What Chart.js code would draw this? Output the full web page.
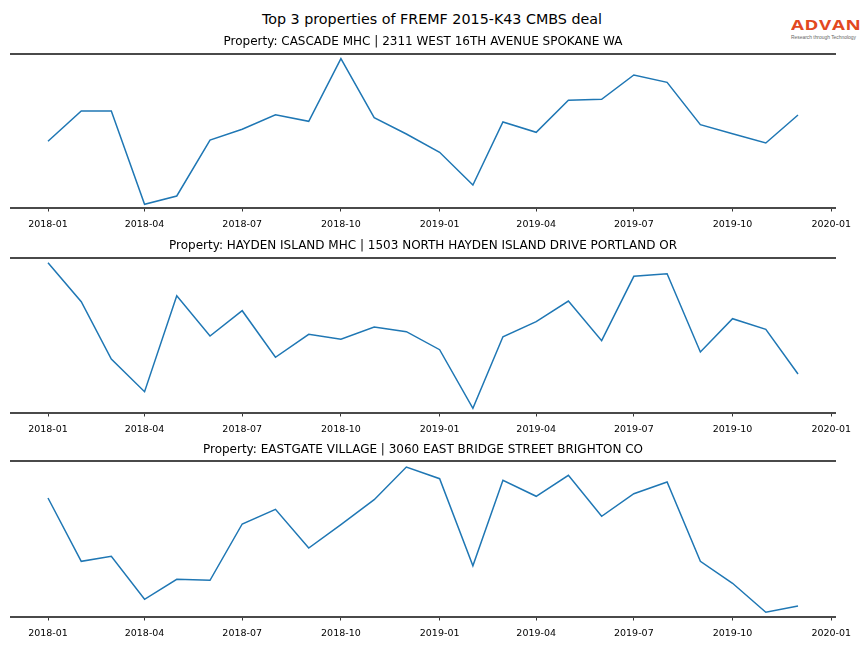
<!DOCTYPE html>
<html>
<head>
<meta charset="utf-8">
<script src="https://cdn.jsdelivr.net/npm/chart.js@4.4.1/dist/chart.umd.min.js"></script>
<style>
  html, body { margin: 0; padding: 0; background: #fff; }
  #wrap { position: relative; width: 864px; height: 648px; overflow: hidden; font-family: "DejaVu Sans", sans-serif; }
  canvas { position: absolute; left: 0; }
  #suptitle { position: absolute; left: 0; width: 864px; top: 10px; text-align: center; font-size: 14.3px; line-height: 18px; color: #000; }
  #logo { position: absolute; left: 791px; top: 16px; width: 72px; }
  #logo .brand { font-family: "Open Sans", "Lato", sans-serif; font-weight: 700; font-size: 15px; line-height: 17px; color: #e2481f; letter-spacing: 0.5px; transform: scaleX(1.25); transform-origin: left center; white-space: nowrap; }
  #logo .tag { font-family: "Liberation Sans", sans-serif; font-size: 4.9px; line-height: 6px; color: #666; white-space: nowrap; margin-top: 2px; }
</style>
</head>
<body>
<div id="wrap">
  <div id="suptitle">Top 3 properties of FREMF 2015-K43 CMBS deal</div>
  <div id="logo"><div class="brand">ADVAN</div><div class="tag">Research through Technology</div></div>
  <canvas id="c1" width="864" height="210"></canvas>
  <canvas id="c2" width="864" height="210"></canvas>
  <canvas id="c3" width="864" height="210"></canvas>
</div>
<script>
// ---- data (arbitrary relative units) ----
const months = ['2018-01','2018-02','2018-03','2018-04','2018-05','2018-06','2018-07','2018-08','2018-09','2018-10','2018-11','2018-12',
                '2019-01','2019-02','2019-03','2019-04','2019-05','2019-06','2019-07','2019-08','2019-09','2019-10','2019-11','2019-12'];
const tickLabels = ['2018-01','2018-04','2018-07','2018-10','2019-01','2019-04','2019-07','2019-10','2020-01'];

const titles = [
  'Property: CASCADE MHC | 2311 WEST 16TH AVENUE SPOKANE WA',
  'Property: HAYDEN ISLAND MHC | 1503 NORTH HAYDEN ISLAND DRIVE PORTLAND OR',
  'Property: EASTGATE VILLAGE | 3060 EAST BRIDGE STREET BRIGHTON CO'
];

const cascade = [66.7, 97.0, 97.0, 3.7, 12.0, 68.0, 78.7, 93.3, 86.7, 149.3, 90.3, 74.0,
                 55.7, 23.0, 86.0, 75.7, 107.7, 108.7, 133.0, 125.7, 83.3, 74.3, 65.0, 93.0];
const hayden  = [150.3, 111.3, 54.0, 21.3, 117.3, 77.0, 102.3, 55.7, 78.7, 73.7, 86.0, 81.3,
                 63.3, 4.7, 76.3, 91.3, 112.0, 72.3, 136.7, 139.3, 61.0, 94.3, 83.7, 39.0];
const eastgate = [119.0, 55.7, 60.7, 17.7, 37.7, 36.7, 93.0, 107.7, 69.0, 92.3, 117.3, 150.0,
                  138.3, 51.3, 136.7, 120.7, 141.7, 100.7, 123.3, 135.0, 55.7, 33.7, 4.7, 11.0];
const seriesList = [cascade, hayden, eastgate];
const yTop = [154, 155, 156];

// ---- layout (panel geometry) ----
const panels = [
  { titleCenter: 42, spineTop: 54, spineBottom: 208 },
  { titleCenter: 246, spineTop: 258, spineBottom: 413 },
  { titleCenter: 450, spineTop: 461, spineBottom: 617 }
];

function dayOf(label) {
  const [y, m] = label.split('-').map(Number);
  return (Date.UTC(y, m - 1, 1) - Date.UTC(2018, 0, 1)) / 86400000;
}
const xs = months.map(dayOf);
const xMinData = Math.min(...xs), xMaxData = Math.max(...xs);
const xMargin = (xMaxData - xMinData) * 0.05;
const tickMap = {};
tickLabels.forEach(l => { tickMap[dayOf(l)] = l; });

const TITLE_FONT = 12;
const TICK_FONT = 9.5;
const TICK_LEN = 3.5;
const TICK_PAD = 7.5;
const AXIS_H = 26;

panels.forEach((p, i) => {
  const cv = document.getElementById('c' + (i + 1));
  const tLine = TITLE_FONT * 1.2;
  const top = Math.floor(p.titleCenter - tLine / 2 - 2);
  const titlePadTop = p.titleCenter - tLine / 2 - top;
  const titlePadBottom = p.spineTop - p.titleCenter - tLine / 2;
  const H = Math.ceil(p.spineBottom - top + AXIS_H);
  cv.style.top = top + 'px';
  cv.height = H;
  cv.style.height = H + 'px';
  const padBottom = H - (p.spineBottom - top) - AXIS_H;

  new Chart(cv, {
    type: 'line',
    data: {
      datasets: [{
        data: seriesList[i].map((v, k) => ({ x: xs[k], y: v })),
        borderColor: '#1f77b4',
        borderWidth: 1.5,
        pointRadius: 0,
        tension: 0,
        fill: false
      }]
    },
    options: {
      responsive: false,
      animation: false,
      devicePixelRatio: 1,
      layout: { padding: { left: 10.5, right: 28.5, top: 0, bottom: padBottom } },
      plugins: {
        legend: { display: false },
        tooltip: { enabled: false },
        title: {
          display: true,
          text: titles[i],
          color: '#000',
          font: { family: 'DejaVu Sans', size: TITLE_FONT, weight: 'normal' },
          padding: { top: titlePadTop, bottom: titlePadBottom }
        }
      },
      scales: {
        x: {
          type: 'linear',
          position: 'bottom',
          min: xMinData - xMargin,
          max: xMaxData + xMargin,
          afterBuildTicks: (scale) => { scale.ticks = tickLabels.map(l => ({ value: dayOf(l) })); },
          afterFit: (scale) => { scale.height = AXIS_H; },
          ticks: {
            autoSkip: false, maxRotation: 0, minRotation: 0,
            padding: TICK_PAD,
            color: '#000',
            font: { family: 'DejaVu Sans', size: TICK_FONT },
            callback: (v) => tickMap[v] || ''
          },
          grid: { display: true, drawOnChartArea: false, drawTicks: true, tickLength: TICK_LEN, tickColor: '#000', tickWidth: 0.8 },
          border: { display: true, color: '#4a4a4a', width: 2 }
        },
        x2: {
          type: 'linear',
          position: 'top',
          min: xMinData - xMargin,
          max: xMaxData + xMargin,
          afterFit: (scale) => { scale.height = 0; },
          ticks: { display: false },
          grid: { display: false, drawTicks: false },
          border: { display: true, color: '#4a4a4a', width: 2 }
        },
        y: {
          display: false,
          min: 0,
          max: yTop[i]
        }
      }
    }
  });
});
</script>
</body>
</html>
